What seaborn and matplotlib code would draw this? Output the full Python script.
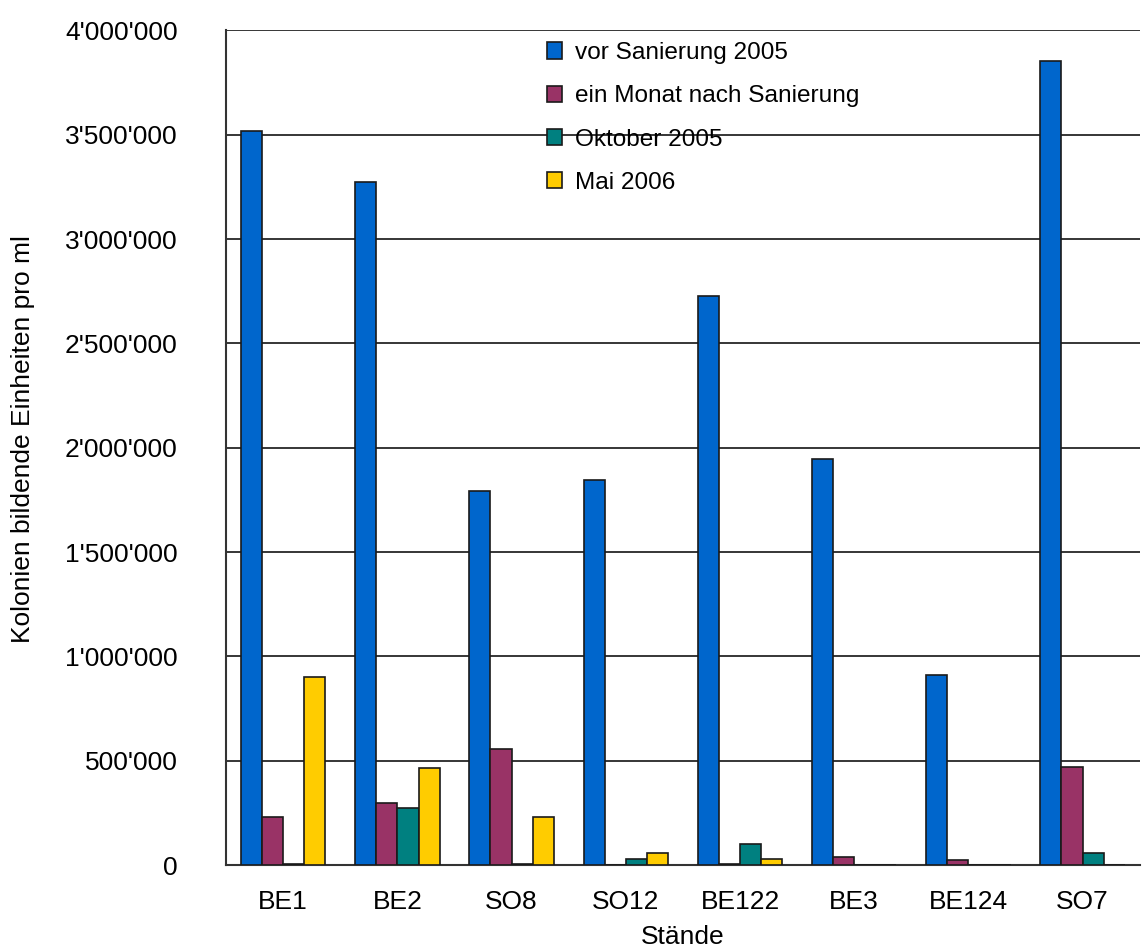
import pandas as pd
import matplotlib.pyplot as plt
import seaborn as sns
from matplotlib.ticker import FuncFormatter, MultipleLocator, FixedLocator

# Values (KBE pro ml)
stands = ['BE1', 'BE2', 'SO8', 'SO12', 'BE122', 'BE3', 'BE124', 'SO7']
series = ['vor Sanierung 2005', 'ein Monat nach Sanierung', 'Oktober 2005', 'Mai 2006']
vor_sanierung = [3520000, 3275000, 1793000, 1846000, 2728000, 1946000, 911000, 3855000]
ein_monat = [232000, 299000, 558000, 0, 5000, 40000, 22000, 471000]
oktober_2005 = [7000, 273000, 5000, 30000, 101000, 0, 0, 56000]
mai_2006 = [903000, 466000, 232000, 56000, 29000, 0, 0, 0]
colors = ['#0066CC', '#993366', '#008080', '#FFCC00']

# long table for seaborn
rows = []
for name, vals in zip(series, [vor_sanierung, ein_monat, oktober_2005, mai_2006]):
    for s, v in zip(stands, vals):
        rows.append({'Stand': s, 'Serie': name, 'Wert': v})
df = pd.DataFrame(rows)

sns.set_style('white')
plt.rcParams['font.family'] = ['Liberation Sans', 'DejaVu Sans']
plt.rcParams['text.color'] = 'black'
plt.rcParams['axes.labelcolor'] = 'black'
plt.rcParams['xtick.color'] = 'black'
plt.rcParams['ytick.color'] = 'black'

fig = plt.figure(figsize=(11.42, 9.51), dpi=100)
ax = fig.add_axes([0.198, 0.0904, 0.800, 0.8776])

sns.barplot(data=df, x='Stand', y='Wert', hue='Serie', order=stands, hue_order=series,
            palette=colors, width=0.74, edgecolor='#1a1a1a', linewidth=1.2,
            saturation=1, ax=ax, zorder=3)

ax.set_ylim(0, 4000000)
ax.set_xlim(-0.5, len(stands) - 0.5)
ax.yaxis.set_major_locator(MultipleLocator(500000))
ax.yaxis.set_major_formatter(FuncFormatter(lambda v, p: '0' if v == 0 else f'{int(v):,}'.replace(',', "'")))
ax.grid(axis='y', color='black', linewidth=1.1, zorder=0)
ax.set_axisbelow(True)

for side in ['top', 'right']:
    ax.spines[side].set_visible(False)
for side in ['left', 'bottom']:
    ax.spines[side].set_color('#333333')
    ax.spines[side].set_linewidth(1.5)

# category separators as ticks on the x axis
ax.xaxis.set_minor_locator(FixedLocator([i - 0.5 for i in range(len(stands) + 1)]))
ax.tick_params(axis='x', which='major', length=0, labelsize=19, pad=18)
ax.tick_params(axis='x', which='minor', length=8, width=1.3, direction='out', color='#333333')
ax.tick_params(axis='y', which='major', length=8, width=1.3, direction='out', color='#333333',
               labelsize=19, pad=27)

ax.set_xlabel('Stände', fontsize=19, labelpad=8)
ax.set_ylabel('Kolonien bildende Einheiten pro ml', fontsize=19)
ax.yaxis.set_label_coords(-0.209, 0.51)

ax.legend(loc='upper left', bbox_to_anchor=(0.470, 0.966), bbox_transform=fig.transFigure,
          frameon=False, fontsize=17.6, handlelength=0.65, handleheight=0.65,
          handletextpad=0.5, labelspacing=0.87, borderaxespad=0)

fig.savefig('out.png', dpi=100)
